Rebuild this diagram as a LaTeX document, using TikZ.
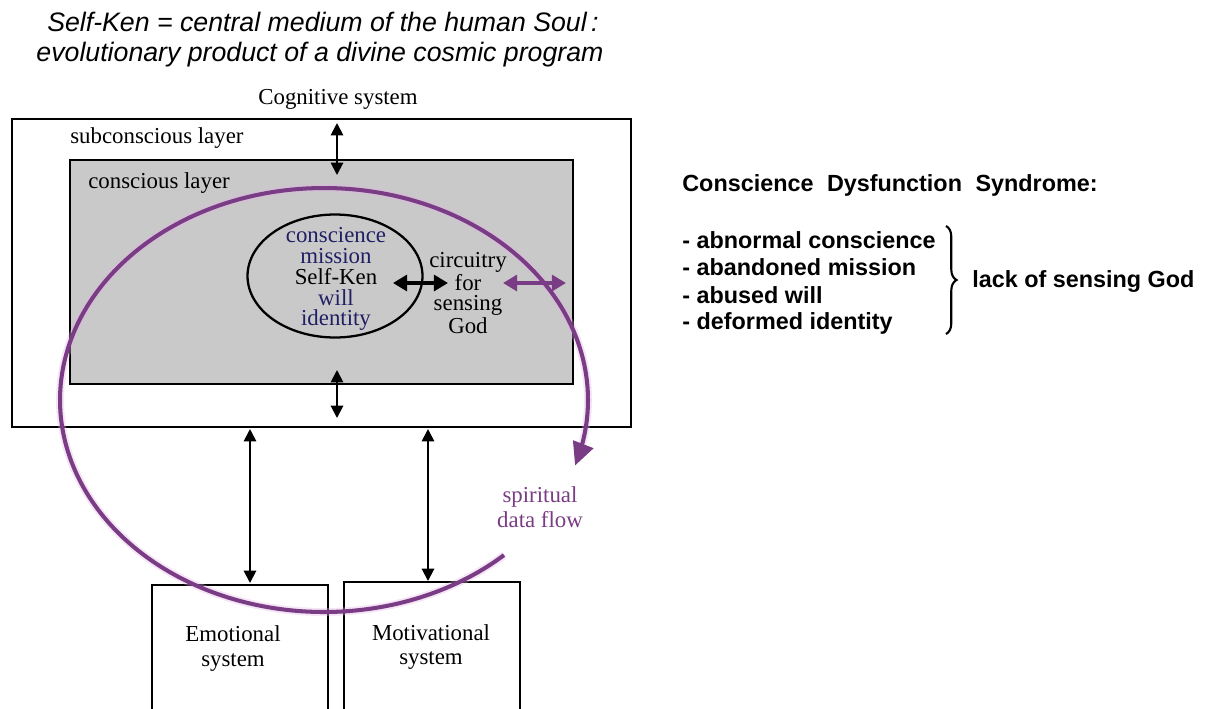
\documentclass[tikz,border=0pt]{standalone}
\usepackage{fontspec}
\setmainfont{Liberation Serif}
\setsansfont{Liberation Sans}
\usetikzlibrary{arrows.meta,fit,shapes.geometric,decorations.pathreplacing}
\definecolor{soulpurple}{RGB}{122,60,132}
\definecolor{glowpink}{RGB}{225,180,230}
\definecolor{layergray}{RGB}{201,201,201}
\definecolor{inkblue}{RGB}{32,30,100}
\begin{document}
\begin{tikzpicture}[x=0.02cm,y=-0.02cm,
  box/.style={draw, line width=1.3pt, inner sep=0pt},
  serif/.style={font=\fontsize{13}{#1}\selectfont, inner sep=0pt, align=center},
  serif/.default=14.2pt,
  title/.style={font=\sffamily\itshape\fontsize{15.2}{18}\selectfont, inner sep=0pt},
  bold/.style={font=\sffamily\bfseries\fontsize{13.3}{16}\selectfont, inner sep=0pt, anchor=west},
  dbl/.style={{Triangle[length=7pt,width=7pt]}-{Triangle[length=7pt,width=7pt]}, line width=1.1pt},
  bigdbl/.style={{Triangle[length=8pt,width=9pt]}-{Triangle[length=8pt,width=9pt]}, line width=2.2pt},
  purpdbl/.style={{Triangle[length=8pt,width=9pt]}-{Triangle[length=8pt,width=9pt]}, line width=2pt, soulpurple},
]
\useasboundingbox (0,0) rectangle (1206,708);

% title
\node[title] (t1) at (323,22) {Self-Ken = central medium of the human Soul\,:};
\node[title] (t2) at (320,55) {evolutionary product of a divine cosmic program};

% cognitive system
\node[box, fill=white, fit={(12,119)(631,427)}] (cog) {};
\node[serif] (cogl) at (338,99) {Cognitive system};
\node[serif, anchor=west] (subl) at (70,138) {subconscious layer};
\node[box, fill=layergray, fit={(70,160)(573,384)}] (con) {};
\node[serif, anchor=west] (conl) at (88,183) {conscious layer};

% Self-Ken ellipse
\node[draw, ellipse, line width=1.3pt, fill=layergray, minimum width=3.5cm, minimum height=2.46cm, inner sep=0pt] (sk) at (335,276) {};
\node[serif=11.9pt] (skt) at (336,279) {\textcolor{inkblue}{conscience}\\\textcolor{inkblue}{mission}\\Self-Ken\\\textcolor{inkblue}{will}\\\textcolor{inkblue}{identity}};
\node[serif=11.5pt] (circ) at (468,293) {circuitry\\for\\sensing\\God};

% systems below
\node[box, fit={(152,585)(328,712)}] (emo) {};
\node[serif] (emol) at (233,648.5) {Emotional\\system};
\node[box, fit={(344,582)(520,712)}] (mot) {};
\node[serif] (motl) at (431,647) {Motivational\\system};

% connector end points
\coordinate (c1a) at (337,123);
\coordinate (c1b) at (337,175);
\coordinate (c2a) at (337,370);
\coordinate (c2b) at (337,418);
\coordinate (e1) at (250,429);
\coordinate (e2) at (250,583);
\coordinate (m1) at (428,429);
\coordinate (m2) at (428,581);
\coordinate (s1) at (393,283);
\coordinate (s2) at (448,283);
\coordinate (p1) at (503,283);
\coordinate (p2) at (566,283);

\draw[dbl] (c1a) -- (c1b);
\draw[dbl] (c2a) -- (c2b);
\draw[dbl] (e1) -- (e2);
\draw[dbl] (m1) -- (m2);
\draw[bigdbl] (s1) -- (s2);

% spiritual data flow
\draw[glowpink, opacity=0.35, line width=4.5pt] plot[domain=47:372, samples=140, smooth] ({324+264*cos(\x)},{400+212*sin(\x)});
\draw[soulpurple, line width=2.3pt, -{Triangle[length=13pt,width=12pt]}] plot[domain=47:378, samples=140, smooth] ({324+264*cos(\x)},{400+212*sin(\x)});
\draw[purpdbl] (p1) -- (p2);
\node[serif, text=soulpurple] (sdf) at (540,507.5) {spiritual\\data flow};

% right-hand text
\node[bold] (cds) at (682,185) {Conscience\hspace{4pt} Dysfunction\hspace{4pt} Syndrome:};
\node[bold] (l1) at (682,240) {- abnormal conscience};
\node[bold] (l2) at (682,267) {- abandoned mission};
\node[bold] (l3) at (682,295) {- abused will};
\node[bold] (l4) at (682,323) {- deformed identity};
\coordinate (b1) at (946,226);
\coordinate (b2) at (946,334);
\draw[line width=1.2pt, decorate, decoration={brace, amplitude=6pt}] (b1) -- (b2);
\node[bold] (lack) at (972,281) {lack of sensing God};
\end{tikzpicture}
\end{document}
